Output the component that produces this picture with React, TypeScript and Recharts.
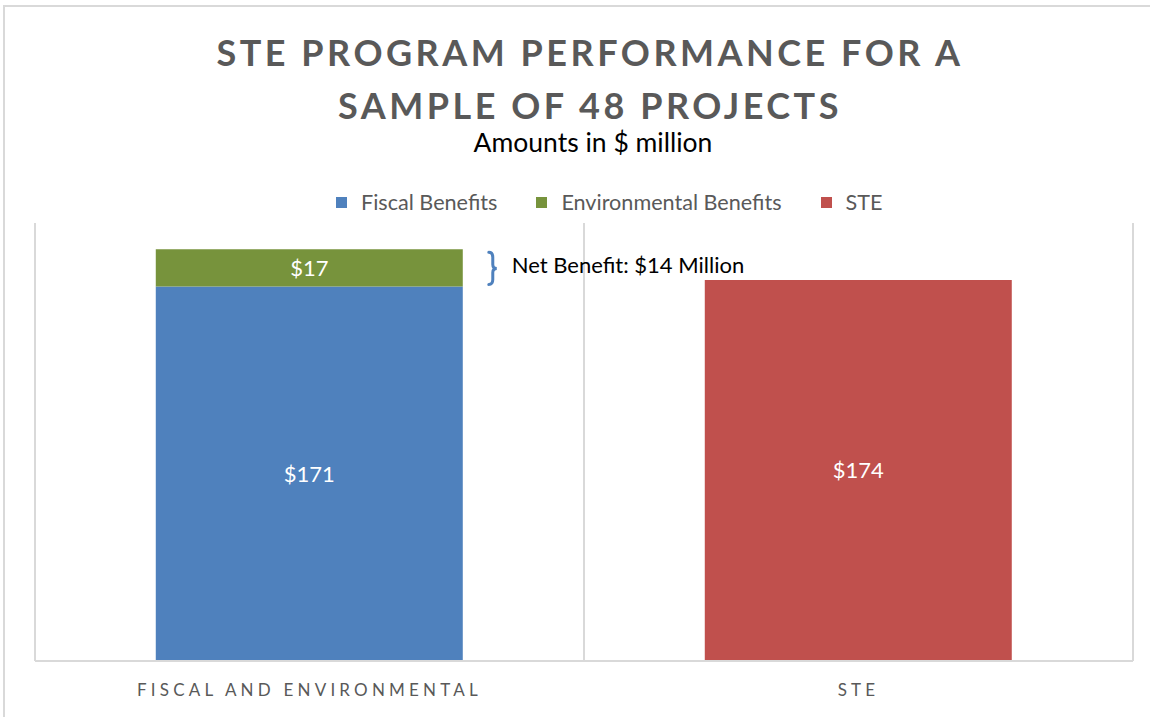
import { BarChart, Bar, XAxis, YAxis, CartesianGrid, LabelList } from "recharts";

const categories = ["FISCAL AND ENVIRONMENTAL", "STE"];
const fiscalBenefits = [171, null];
const environmentalBenefits = [17, null];
const steCost = [null, 174];
const legendItems = [
  { name: "Fiscal Benefits", color: "#4f81bd" },
  { name: "Environmental Benefits", color: "#77933c" },
  { name: "STE", color: "#c0504d" },
];

const data = categories.map((c, i) => ({
  category: c,
  fiscal: fiscalBenefits[i],
  environmental: environmentalBenefits[i],
  ste: steCost[i],
}));

const netBenefit =
  (fiscalBenefits[0] ?? 0) + (environmentalBenefits[0] ?? 0) - (steCost[1] ?? 0);

const FONT = "Lato, 'Open Sans', sans-serif";

const money = (v: any) => (v == null ? "" : `$${v}`);

function CategoryTick(props: any) {
  const { x, y, payload } = props;
  return (
    <text
      x={x}
      y={y + 27}
      textAnchor="middle"
      fill="#595959"
      fontSize={17}
      letterSpacing={4.2}
      fontFamily={FONT}
    >
      {payload.value}
    </text>
  );
}

function NetBenefitNote(props: any) {
  const { x, y, width, height, value } = props;
  if (value == null) return null;
  const bx = x + width + 26;
  const top = y + 3;
  const bottom = y + height - 2;
  const mid = (top + bottom) / 2;
  const d = `M ${bx} ${top} Q ${bx + 4} ${top} ${bx + 4} ${top + 5} L ${bx + 4} ${mid - 4} Q ${bx + 4} ${mid} ${bx + 8} ${mid} Q ${bx + 4} ${mid} ${bx + 4} ${mid + 4} L ${bx + 4} ${bottom - 5} Q ${bx + 4} ${bottom} ${bx} ${bottom}`;
  return (
    <g>
      <path d={d} fill="none" stroke="#4f81bd" strokeWidth={3} strokeLinecap="round" />
      <text
        x={bx + 23}
        y={mid - 4}
        dominantBaseline="central"
        fill="#000"
        fontSize={22}
        fontFamily={FONT}
      >
        {`Net Benefit: $${netBenefit} Million`}
      </text>
    </g>
  );
}

const titleLine = {
  position: "absolute" as const,
  left: 0,
  width: 1180,
  textAlign: "center" as const,
  color: "#595959",
  fontWeight: 700,
  fontSize: 36,
  letterSpacing: 3.5,
  lineHeight: "40px",
};

export default function App() {
  return (
    <div
      style={{
        position: "absolute",
        left: 0,
        top: 0,
        width: 1150,
        height: 717,
        overflow: "hidden",
        background: "#fff",
        fontFamily: FONT,
      }}
    >
      <div
        style={{
          position: "absolute",
          left: 3,
          top: 5,
          width: 1170,
          height: 740,
          border: "2px solid #d9d9d9",
        }}
      />
      <div style={{ ...titleLine, top: 32 }}>STE PROGRAM PERFORMANCE FOR A</div>
      <div style={{ ...titleLine, top: 85 }}>SAMPLE OF 48 PROJECTS</div>
      <div
        style={{
          position: "absolute",
          left: 0,
          top: 128,
          width: 1186,
          textAlign: "center",
          color: "#000",
          fontSize: 26.5,
          lineHeight: "28px",
        }}
      >
        Amounts in $ million
      </div>
      <div
        style={{
          position: "absolute",
          left: 336,
          top: 189,
          display: "flex",
          alignItems: "center",
          color: "#595959",
          fontSize: 21.6,
        }}
      >
        {legendItems.map((it) => (
          <div key={it.name} style={{ display: "flex", alignItems: "center", marginRight: 39 }}>
            <span style={{ width: 11, height: 11, background: it.color, marginRight: 14 }} />
            <span>{it.name}</span>
          </div>
        ))}
      </div>
      <div style={{ position: "absolute", left: 0, top: 0 }}>
        <BarChart
          width={1150}
          height={717}
          data={data}
          margin={{ top: 223, right: 17, left: 35, bottom: 26 }}
          barCategoryGap="22%"
        >
          <CartesianGrid
            horizontal={false}
            stroke="#d9d9d9"
            strokeWidth={2}
            verticalCoordinatesGenerator={({ offset }: any) => [
              offset.left,
              offset.left + offset.width / 2,
              offset.left + offset.width,
            ]}
          />
          <XAxis
            dataKey="category"
            height={30}
            axisLine={{ stroke: "#d9d9d9", strokeWidth: 2 }}
            tickLine={false}
            tick={<CategoryTick />}
            interval={0}
          />
          <YAxis hide domain={[0, 200]} />
          <Bar dataKey="fiscal" stackId="a" fill="#4f81bd" isAnimationActive={false}>
            <LabelList dataKey="fiscal" position="center" fill="#fff" fontSize={22} fontFamily={FONT} formatter={money} />
          </Bar>
          <Bar dataKey="environmental" stackId="a" fill="#77933c" isAnimationActive={false}>
            <LabelList dataKey="environmental" position="center" fill="#fff" fontSize={22} fontFamily={FONT} formatter={money} />
            <LabelList dataKey="environmental" content={<NetBenefitNote />} />
          </Bar>
          <Bar dataKey="ste" stackId="a" fill="#c0504d" isAnimationActive={false}>
            <LabelList dataKey="ste" position="center" fill="#fff" fontSize={22} fontFamily={FONT} formatter={money} />
          </Bar>
        </BarChart>
      </div>
    </div>
  );
}
